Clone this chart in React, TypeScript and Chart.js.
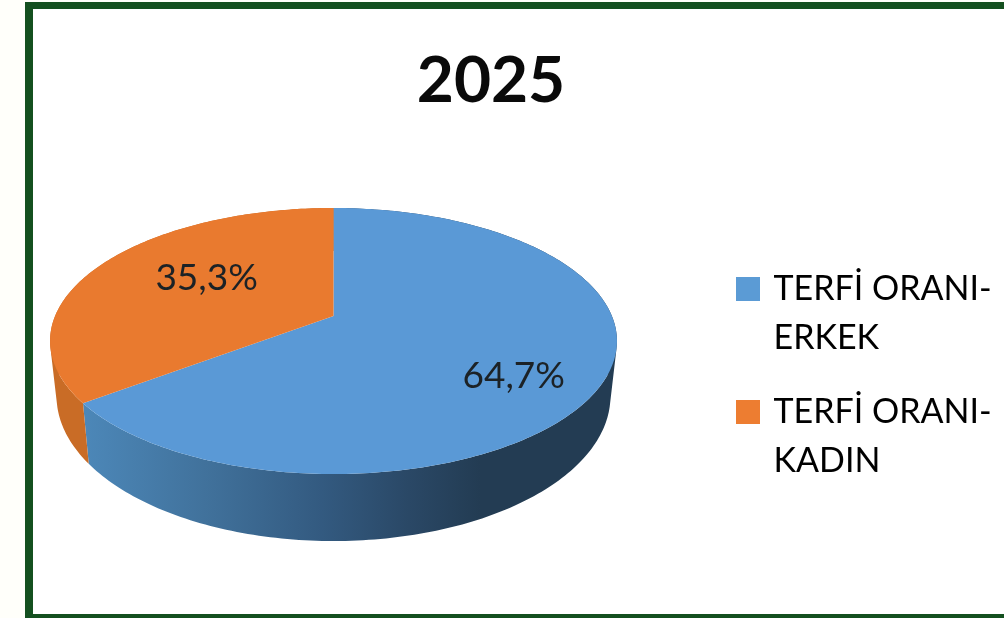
import React, { useEffect, useRef } from "react";
import { Chart, registerables } from "chart.js";

Chart.register(...registerables);

const titleText = "2025";
const categories = [["TERFİ ORANI-", "ERKEK"], ["TERFİ ORANI-", "KADIN"]];
const values = [64.7, 35.3];
const faceColors = ["#5a99d6", "#e97a2f"];
const legendColors = ["#5b9bd5", "#ed7d31"];

const FONT = "Lato, Carlito, Calibri, sans-serif";

// Perspective of the disc (page pixels)
const V = { x: 333.5, y: 316, a: -0.188, A: 278.4, C: 68.9 };
const TOP = { cx: 333.5, cy: 341, rx: 283.5, ry: 133 };
const BOTTOM = { cx: 333.5, cy: 396, rx: 277, ry: 145 };
const LABEL_PLACE = [
  { f: 0.71, dy: -7 },
  { f: 0.5, dy: -33 },
];

const project = (t: number) => {
  const u = Math.cos(t);
  const v = Math.sin(t);
  const d = 1 + V.a * v;
  return { x: V.x + (V.A * u) / d, y: (V.y + V.C * v) / d };
};

const toBottom = (p: { x: number; y: number }) => ({
  x: BOTTOM.cx + ((p.x - TOP.cx) / TOP.rx) * BOTTOM.rx,
  y: BOTTOM.cy + ((p.y - TOP.cy) / TOP.ry) * BOTTOM.ry,
});

const sample = (start: number, end: number) => {
  const n = Math.max(2, Math.ceil(((end - start) * 180) / Math.PI));
  const pts = [];
  for (let i = 0; i <= n; i++) pts.push(project(start + ((end - start) * i) / n));
  return pts;
};

const wallFill = (ctx: CanvasRenderingContext2D, i: number) => {
  if (i === 0) {
    const g = ctx.createLinearGradient(85, 0, 480, 0);
    g.addColorStop(0, "#4c87b8");
    g.addColorStop(0.3, "#41729c");
    g.addColorStop(0.6, "#335a80");
    g.addColorStop(0.82, "#2a4866");
    g.addColorStop(1, "#233c53");
    return g;
  }
  return "#c96c26";
};

const disc3d = {
  id: "disc3d",
  afterLayout(chart: any) {
    const t = chart.titleBlock;
    if (t) {
      t.left = 0;
      t.right = 982;
      t.width = 982;
    }
    const l = chart.legend;
    if (l) {
      const pad = l.options.labels.padding;
      l.left = 739.5 - pad;
      l.right = 1004;
      l.width = l.right - l.left;
      l.top = 272 - pad;
      l.bottom = 618;
      l.height = l.bottom - l.top;
    }
  },
  beforeDatasetsDraw(chart: any) {
    const ctx: CanvasRenderingContext2D = chart.ctx;
    const arcs = chart.getDatasetMeta(0).data;
    ctx.save();
    // side wall: one quad per step, so the silhouette joins the two rims
    arcs.forEach((arc: any, i: number) => {
      const top = sample(arc.startAngle, arc.endAngle);
      const bottom = top.map(toBottom);
      ctx.beginPath();
      for (let k = 0; k < top.length - 1; k++) {
        const a = top[k];
        const b = top[k + 1];
        const c = bottom[k + 1];
        const d = bottom[k];
        // keep every quad the same way round
        const area =
          (b.x - a.x) * (c.y - a.y) - (b.y - a.y) * (c.x - a.x) +
          (c.x - a.x) * (d.y - a.y) - (c.y - a.y) * (d.x - a.x);
        const quad = area >= 0 ? [a, b, c, d] : [d, c, b, a];
        ctx.moveTo(quad[0].x, quad[0].y);
        ctx.lineTo(quad[1].x, quad[1].y);
        ctx.lineTo(quad[2].x, quad[2].y);
        ctx.lineTo(quad[3].x, quad[3].y);
        ctx.closePath();
      }
      ctx.fillStyle = wallFill(ctx, i);
      ctx.fill();
    });
    // top face
    arcs.forEach((arc: any) => {
      const pts = sample(arc.startAngle, arc.endAngle);
      ctx.beginPath();
      ctx.moveTo(V.x, V.y);
      pts.forEach((p) => ctx.lineTo(p.x, p.y));
      ctx.closePath();
      ctx.fillStyle = arc.options.backgroundColor;
      ctx.fill();
    });
    // value labels
    ctx.fillStyle = "#1c2226";
    ctx.font = `37px ${FONT}`;
    ctx.textAlign = "center";
    ctx.textBaseline = "middle";
    arcs.forEach((arc: any, i: number) => {
      const mid = (arc.startAngle + arc.endAngle) / 2;
      const place = LABEL_PLACE[i];
      const x = TOP.cx + TOP.rx * Math.cos(mid) * place.f;
      const y = TOP.cy + TOP.ry * Math.sin(mid) * place.f + place.dy;
      ctx.fillText(`${values[i].toFixed(1).replace(".", ",")}%`, x, y);
    });
    ctx.restore();
    return false;
  },
};

export default function App() {
  const ref = useRef<HTMLCanvasElement>(null);
  useEffect(() => {
    const chart = new Chart(ref.current as HTMLCanvasElement, {
      type: "pie",
      data: {
        labels: categories as any,
        datasets: [{ data: values, backgroundColor: faceColors, borderWidth: 0 }],
      },
      options: {
        responsive: false,
        animation: false,
        plugins: {
          tooltip: { enabled: false },
          title: {
            display: true,
            text: titleText,
            color: "#0a0a0a",
            font: { family: FONT, size: 64, weight: "bold", lineHeight: 1 },
            padding: { top: 49, bottom: 0 },
          },
          legend: {
            display: true,
            position: "right",
            align: "start",
            labels: {
              boxWidth: 17,
              boxHeight: 17,
              padding: 25,
              color: "#222222",
              font: { family: FONT, size: 34, lineHeight: 1.44 },
              generateLabels: (c: any) =>
                c.data.labels.map((text: string[], i: number) => ({
                  text,
                  fillStyle: legendColors[i],
                  strokeStyle: legendColors[i],
                  lineWidth: 7,
                  hidden: false,
                  index: i,
                })),
            },
          },
        },
      } as any,
      plugins: [disc3d as any],
    });
    return () => chart.destroy();
  }, []);
  return (
    <div style={{ position: "fixed", left: 0, top: 0, width: 1004, height: 618, overflow: "hidden", background: "#fffffa" }}>
      <div
        style={{
          position: "absolute",
          left: 25,
          top: 2,
          width: 1020,
          height: 616,
          boxSizing: "border-box",
          background: "#ffffff",
          borderLeft: "8px solid #14501f",
          borderTop: "7px solid #14501f",
          borderBottom: "4px solid #14501f",
        }}
      />
      <canvas ref={ref} width={1004} height={618} style={{ position: "absolute", left: 0, top: 0, filter: "blur(0.6px)" }} />
    </div>
  );
}
